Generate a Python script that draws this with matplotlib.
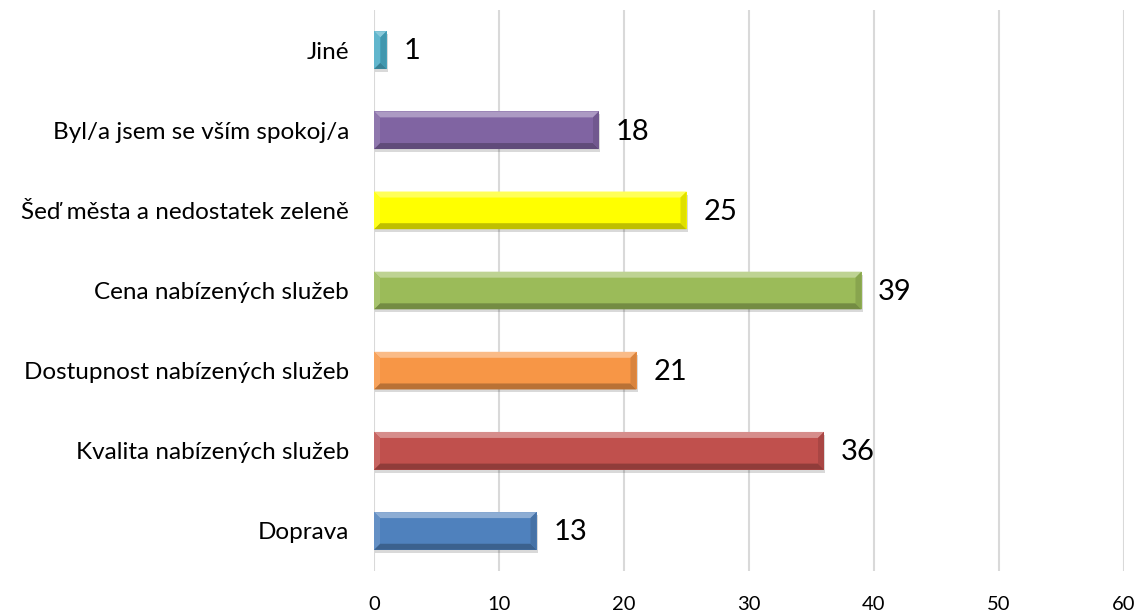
import matplotlib
matplotlib.use("Agg")
import matplotlib.pyplot as plt
from matplotlib.patches import Polygon, Rectangle
import matplotlib.colors as mcolors
import numpy as np

categories = ["Doprava", "Kvalita nabízených služeb", "Dostupnost nabízených služeb",
              "Cena nabízených služeb", "Šeď města a nedostatek zeleně",
              "Byl/a jsem se vším spokoj/a", "Jiné"]
values = [13, 36, 21, 39, 25, 18, 1]
colors = ["#4F81BD", "#C0504D", "#F79646", "#9BBB59", "#FFFF00", "#8064A2", "#4BACC6"]
xticks = [0, 10, 20, 30, 40, 50, 60]

plt.rcParams['font.family'] = ['Lato', 'DejaVu Sans']

fig = plt.figure(figsize=(11.44, 6.14), dpi=100)
ax = fig.add_axes([374/1144, 1-571/614, 750/1144, 561/614])

ypos = np.arange(len(categories))
bar_h = 0.47
ax.set_xlim(0, 60)
ax.set_ylim(-0.5, len(categories) - 0.5)

bars = ax.barh(ypos, values, height=bar_h, color=colors, zorder=3, edgecolor='none')

px_x = 60 / 750.0
px_y = len(categories) / 561.0

def shade(c, f):
    r, g, b = mcolors.to_rgb(c)
    if f >= 0:
        return (r + (1 - r) * f, g + (1 - g) * f, b + (1 - b) * f)
    f = -f
    return (r * (1 - f), g * (1 - f), b * (1 - f))

for y, v, c in zip(ypos, values, colors):
    x0, x1 = 0, v
    y0, y1 = y - bar_h / 2, y + bar_h / 2
    dx = 6 * px_x
    dy = 6 * px_y
    dx = min(dx, (x1 - x0) / 2)
    ax.add_patch(Rectangle((x0 + 1 * px_x, y0 - 3 * px_y), v, bar_h, color=(0, 0, 0), alpha=0.15,
                           zorder=2, lw=0))
    ax.add_patch(Polygon([(x0, y1), (x1, y1), (x1 - dx, y1 - dy), (x0 + dx, y1 - dy)],
                         closed=True, color=shade(c, 0.35), lw=0, zorder=4))
    ax.add_patch(Polygon([(x0, y0), (x1, y0), (x1 - dx, y0 + dy), (x0 + dx, y0 + dy)],
                         closed=True, color=shade(c, -0.25), lw=0, zorder=4))
    ax.add_patch(Polygon([(x0, y0), (x0, y1), (x0 + dx, y1 - dy), (x0 + dx, y0 + dy)],
                         closed=True, color=shade(c, 0.12), lw=0, zorder=4))
    ax.add_patch(Polygon([(x1, y0), (x1, y1), (x1 - dx, y1 - dy), (x1 - dx, y0 + dy)],
                         closed=True, color=shade(c, -0.12), lw=0, zorder=4))
    ax.annotate(str(v), xy=(v, y), xytext=(12, -1), textcoords='offset points',
                ha='left', va='center', fontsize=21, color='black', zorder=5)

ax.set_yticks(ypos)
ax.set_yticklabels(categories, fontsize=17.5)
ax.set_xticks(xticks)
ax.set_xticklabels([str(t) for t in xticks], fontsize=14.5)
ax.tick_params(axis='both', length=0)
ax.tick_params(axis='y', pad=18)
ax.tick_params(axis='x', pad=18)
for s in ax.spines.values():
    s.set_visible(False)
ax.grid(axis='x', color='#D9D9D9', lw=1.5, zorder=0)
ax.set_axisbelow(True)

fig.savefig("out.png", dpi=100)
